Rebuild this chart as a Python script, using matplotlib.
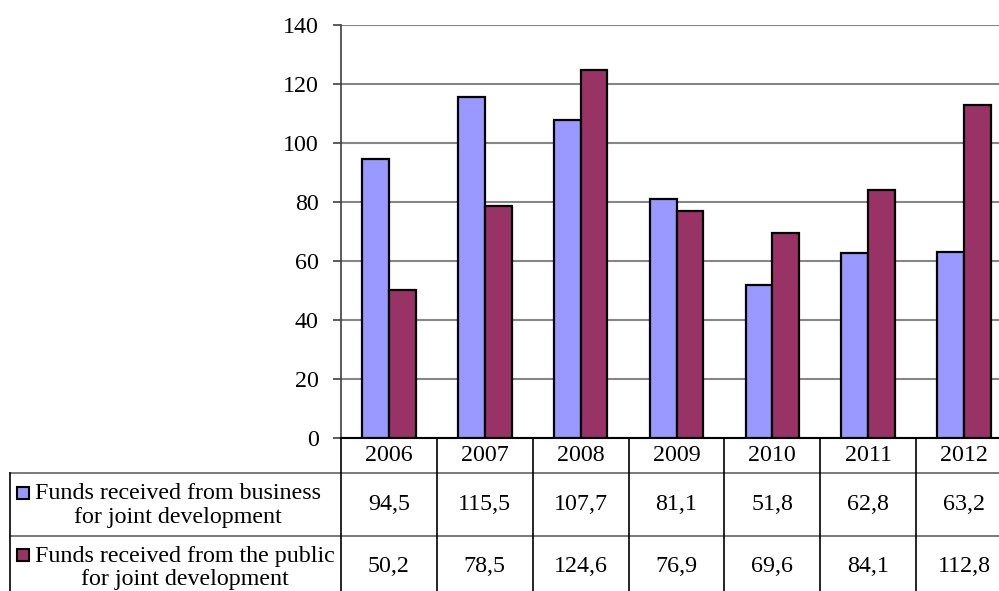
import numpy as np
import matplotlib
matplotlib.use('Agg')
import matplotlib.pyplot as plt
from matplotlib.patches import Rectangle

plt.rcParams['font.family'] = ['Liberation Serif', 'DejaVu Serif']

years = ['2006', '2007', '2008', '2009', '2010', '2011', '2012']
business = [94.5, 115.5, 107.7, 81.1, 51.8, 62.8, 63.2]
public = [50.2, 78.5, 124.6, 76.9, 69.6, 84.1, 112.8]
series_names = ['Funds received from business\nfor joint development',
                'Funds received from the public\nfor joint development']
colors = ['#9999FF', '#993366']
fs = 17.3

W, H = 999, 591
fig = plt.figure(figsize=(W / 100, H / 100), dpi=100)

# plot area, in pixels from the top-left corner
px_left, px_right, px_top, px_bottom = 341, 1012, 25, 438
ax = fig.add_axes([px_left / W, 1 - px_bottom / H,
                   (px_right - px_left) / W, (px_bottom - px_top) / H])

x = np.arange(len(years))
bw = 0.28
ax.bar(x - bw / 2, business, bw, color=colors[0], edgecolor='black', linewidth=1.6, zorder=3)
ax.bar(x + bw / 2, public, bw, color=colors[1], edgecolor='black', linewidth=1.6, zorder=3)

ax.set_xlim(-0.5, len(years) - 0.5)
ax.set_ylim(0, 140)
ax.set_yticks(range(0, 141, 20))
ax.set_xticks([])
ax.yaxis.grid(True, color='#868686', linewidth=1.5)
ax.set_axisbelow(True)
for s in ['top', 'right']:
    ax.spines[s].set_visible(False)
ax.spines['left'].set_color('#404040')
ax.spines['left'].set_linewidth(1.2)
ax.spines['bottom'].set_color('black')
ax.spines['bottom'].set_linewidth(1.5)
ax.tick_params(axis='y', length=6, width=1.2, pad=10, labelsize=fs, color='#404040')

# data table under the plot
col_w = (px_right - px_left) / len(years)
tab_left = 10
xl = -0.5 - (px_left - tab_left) / col_w
tab = fig.add_axes([tab_left / W, 0, (px_right - tab_left) / W, (H - px_bottom) / H])
tab.set_xlim(xl, len(years) - 0.5)
tab.set_ylim(H, px_bottom)
tab.axis('off')

row_edges = [438, 473, 536, 599]
for y in row_edges[1:3]:
    tab.plot([xl, len(years) - 0.5], [y, y], color='#707070', lw=1.3, clip_on=False)
tab.plot([xl, xl], [row_edges[1], row_edges[3]], color='black', lw=1.2, clip_on=False)
for i in range(len(years) + 1):
    tab.plot([i - 0.5, i - 0.5], [row_edges[0], row_edges[3]], color='black', lw=1.2, clip_on=False)

for i, yr in enumerate(years):
    tab.text(i, (row_edges[0] + row_edges[1]) / 2, yr, ha='center', va='center', fontsize=fs)

def px_x(p):
    return -0.5 + (p - px_left) / col_w

for r, (vals, name, c) in enumerate(zip([business, public], series_names, colors)):
    y0, y1 = row_edges[r + 1], row_edges[r + 2]
    yc = (y0 + y1) / 2
    if r == 1:
        yc = y0 + 31
    for i, v in enumerate(vals):
        tab.text(i, yc, f'{v:.1f}'.replace('.', ','), ha='center', va='center', fontsize=fs)
    tab.text(px_x(35), yc + 1, name, ha='left', va='center', multialignment='center',
             fontsize=fs, linespacing=1.15)
    sq = 12
    tab.add_patch(Rectangle((px_x(17), yc - 12 - sq / 2), sq / col_w, sq,
                            facecolor=c, edgecolor='black', lw=1.5, clip_on=False))

fig.savefig('out.png', dpi=100)
